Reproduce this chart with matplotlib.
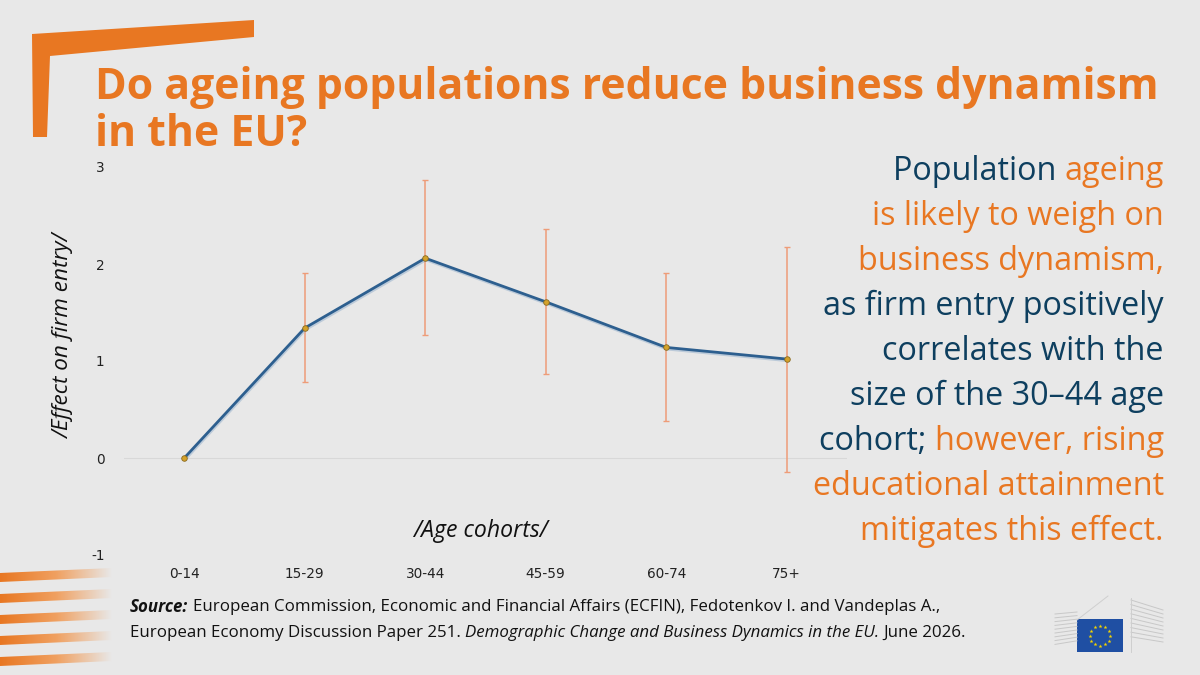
import numpy as np
import matplotlib
matplotlib.use("Agg")
import matplotlib.pyplot as plt
from matplotlib.patches import Polygon, Rectangle
import matplotlib.patheffects as pe

# ---- Data ----
cohorts = ["0-14", "15-29", "30-44", "45-59", "60-74", "75+"]
effect = [0.0, 1.34, 2.06, 1.61, 1.14, 1.02]
ci_low = [0.0, 0.78, 1.27, 0.87, 0.38, -0.14]
ci_high = [0.0, 1.91, 2.87, 2.36, 1.91, 2.18]
y_ticks = [-1, 0, 1, 2, 3]

title = "Do ageing populations reduce business dynamism\nin the EU?"
# (text, colour key) segments for each line of the side note
note_lines = [
    [("Population ", "blue"), ("ageing", "orange")],
    [("is likely to weigh on", "orange")],
    [("business dynamism,", "orange")],
    [("as firm entry positively", "blue")],
    [("correlates with the", "blue")],
    [("size of the 30\u201344 age", "blue")],
    [("cohort; ", "blue"), ("however, rising", "orange")],
    [("educational attainment", "orange")],
    [("mitigates this effect.", "orange")],
]

BG = "#e8e8e8"
ORANGE = "#e87722"
NAVY = "#0e3f5f"
LINE_BLUE = "#2d5f8f"
ERR = "#ee9c78"
colours = {"blue": NAVY, "orange": ORANGE}

plt.rcParams["font.family"] = ["Open Sans", "DejaVu Sans"]
plt.rcParams["axes.unicode_minus"] = False

fig = plt.figure(figsize=(12, 6.75), dpi=100, facecolor=BG)
W, H = 1200, 675


def fx(px):
    return px / W


def fy(py):
    return 1 - py / H


# ---- Decoration: orange corner bracket ----
bracket = [(32, 34), (254, 20), (254, 37), (50, 56), (47, 137), (33, 137)]
fig.patches.append(Polygon([(fx(x), fy(y)) for x, y in bracket], closed=True,
                           transform=fig.transFigure, facecolor=ORANGE,
                           edgecolor="none"))

# ---- Decoration: fading stripes bottom-left ----
deco = fig.add_axes([0, 0, 1, 1], zorder=0)
deco.set_xlim(0, W)
deco.set_ylim(H, 0)
deco.axis("off")
fade = matplotlib.colors.LinearSegmentedColormap.from_list("fade", [BG, "#f0a060", ORANGE])
grad = np.linspace(1, 0, 256).reshape(1, -1)
for top in [570, 591, 612, 633, 654]:
    im = deco.imshow(grad, extent=(0, 112, top + 12, top - 2), cmap=fade,
                     aspect="auto", vmin=0, vmax=1)
    poly = Polygon([(0, top + 3), (112, top - 2), (112, top + 7), (0, top + 12)],
                   closed=True, transform=deco.transData, facecolor="none")
    deco.add_patch(poly)
    poly.set_visible(False)
    im.set_clip_path(poly)

# ---- EU logo ----
for i in range(9):
    y0 = 612 + i * 4
    deco.plot([1055, 1077], [y0 + 2 - i * 0.2, y0 - i * 0.4], color="#c8c8c8", lw=0.7)
    deco.plot([1131, 1163], [y0 - 12 + i * 0.6, y0 - 2], color="#c8c8c8", lw=0.7)
deco.plot([1077, 1108], [620, 596], color="#cfcfcf", lw=0.7)
deco.plot([1131, 1131], [598, 652], color="#cfcfcf", lw=0.7)
deco.add_patch(Rectangle((1077, 619), 46, 33, facecolor="#1f4fa3", edgecolor="none"))
ang = np.linspace(0, 2 * np.pi, 13)[:-1]
deco.scatter(1100 + 10 * np.cos(ang), 635.5 + 10 * np.sin(ang), marker="*", s=9,
             color="#f5d400", linewidths=0, zorder=3)

# ---- Main chart ----
ax = fig.add_axes([fx(124), fy(555), fx(847) - fx(124), fy(167) - fy(555)], zorder=1)
ax.set_facecolor("none")
x = np.arange(len(cohorts))
eff = np.array(effect)
lo = eff - np.array(ci_low)
hi = np.array(ci_high) - eff
ax.axhline(0, color="#d8d8d8", lw=0.8, zorder=1)
ax.errorbar(x[1:], eff[1:], yerr=[lo[1:], hi[1:]], fmt="none", ecolor=ERR,
            elinewidth=1.1, capsize=2.2, capthick=1.0, zorder=2)
ax.plot(x, eff, color=LINE_BLUE, lw=2, zorder=3,
        path_effects=[pe.SimpleLineShadow(offset=(0.5, -1.2), shadow_color="#9fb7cf", alpha=0.6), pe.Normal()])
ax.plot(x, eff, "o", ms=4, mfc="#d4a22a", mec="#8a6a20", mew=0.6, zorder=4)

ax.set_xlim(-0.5, 5.5)
ax.set_ylim(-1, 3)
ax.set_yticks(y_ticks)
ax.set_xticks(x)
ax.set_xticklabels(cohorts)
ax.tick_params(length=0, labelsize=9.8, labelcolor="#222222")
ax.tick_params(axis="x", pad=9)
ax.tick_params(axis="y", pad=14)
for lab in ax.get_xticklabels() + ax.get_yticklabels():
    lab.set_family("DejaVu Sans")
for s in ax.spines.values():
    s.set_visible(False)
fig.text(fx(64), fy(336), "/Effect on firm entry/", rotation=90, fontsize=16.2,
         style="italic", color="#111111", ha="center", va="center")
fig.text(fx(480), fy(531), "/Age cohorts/", fontsize=16.6,
         style="italic", color="#111111", ha="center", va="center")

# ---- Title ----
fig.text(fx(95), fy(111), title, fontsize=30.8, fontweight="bold", color=ORANGE,
         ha="left", va="center", linespacing=1.14)

# ---- Side note (right aligned, mixed colours) ----
renderer = fig.canvas.get_renderer()
right = fx(1164)
for i, segs in enumerate(note_lines):
    ypos = fy(172 + i * 44.9)
    xr = right
    for text, ck in reversed(segs):
        t = fig.text(xr, ypos, text, fontsize=23.3, color=colours[ck], ha="right", va="center")
        bb = t.get_window_extent(renderer=renderer)
        xr = bb.x0 / fig.bbox.width

# ---- Source ----
fs = 12.2
src = fig.text(fx(130), fy(607), "Source:", fontsize=fs, fontweight="bold", style="italic",
               color="#111111", va="center")
bb = src.get_window_extent(renderer=renderer)
fig.text(bb.x1 / fig.bbox.width + 0.004, fy(607),
         "European Commission, Economic and Financial Affairs (ECFIN), Fedotenkov I. and Vandeplas A.,",
         fontsize=fs, color="#111111", va="center")
t1 = fig.text(fx(130), fy(633), "European Economy Discussion Paper 251. ", fontsize=fs,
              color="#111111", va="center")
bb = t1.get_window_extent(renderer=renderer)
t2 = fig.text(bb.x1 / fig.bbox.width, fy(633), "Demographic Change and Business Dynamics in the EU.",
              fontsize=fs, style="italic", color="#111111", va="center")
bb = t2.get_window_extent(renderer=renderer)
fig.text(bb.x1 / fig.bbox.width + 0.003, fy(633), "June 2026.", fontsize=fs,
         color="#111111", va="center")

fig.savefig("out.png", dpi=100, facecolor=BG)
